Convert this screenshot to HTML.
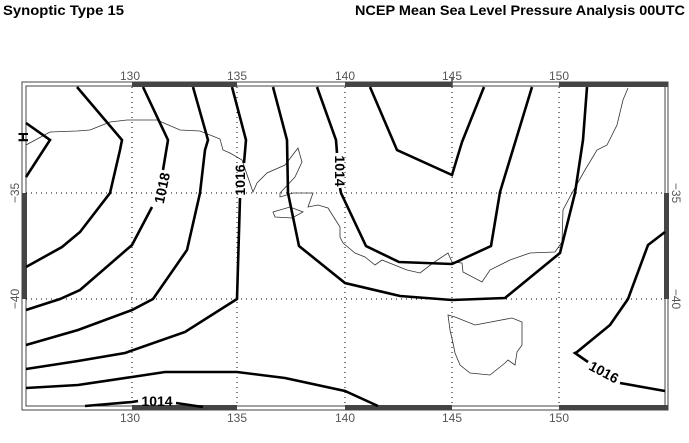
<!DOCTYPE html>
<html><head><meta charset="utf-8"><style>
html,body{margin:0;padding:0;background:#fff;}
svg{display:block;}
</style></head><body>
<svg width="689" height="443" viewBox="0 0 689 443" xmlns="http://www.w3.org/2000/svg" font-family="Liberation Sans, sans-serif">
<rect width="689" height="443" fill="#fff"/>
<text x="3" y="15" font-size="14" font-weight="bold" textLength="121" lengthAdjust="spacingAndGlyphs">Synoptic Type 15</text>
<text x="355" y="15" font-size="14" font-weight="bold" textLength="330" lengthAdjust="spacingAndGlyphs">NCEP Mean Sea Level Pressure Analysis 00UTC</text>

<!-- frame strips -->
<rect x="22" y="82" width="646" height="328" fill="none" stroke="#444" stroke-width="1"/>
<rect x="26" y="86" width="639" height="320" fill="none" stroke="#444" stroke-width="1"/>
<g fill="#444">
<rect x="132" y="82" width="105" height="5"/>
<rect x="345" y="82" width="107" height="5"/>
<rect x="559" y="82" width="109" height="5"/>
<rect x="132" y="405" width="105" height="5"/>
<rect x="345" y="405" width="107" height="5"/>
<rect x="559" y="405" width="109" height="5"/>
<rect x="22" y="193" width="5" height="106"/>
<rect x="664" y="193" width="5" height="106"/>
</g>
<line x1="452" y1="77" x2="452" y2="87" stroke="#444" stroke-width="1.5"/>

<!-- grid -->
<g stroke="#000" stroke-width="1" stroke-dasharray="1,4">
<line x1="132" y1="87" x2="132" y2="406"/>
<line x1="237" y1="87" x2="237" y2="406"/>
<line x1="345" y1="87" x2="345" y2="406"/>
<line x1="452" y1="87" x2="452" y2="406"/>
<line x1="559" y1="87" x2="559" y2="406"/>
<line x1="26" y1="193" x2="665" y2="193"/>
<line x1="26" y1="299" x2="665" y2="299"/>
</g>

<!-- tick labels -->
<g font-size="12" fill="#555" text-anchor="middle">
<text x="130" y="80">130</text><text x="237" y="80">135</text><text x="345" y="80">140</text><text x="452" y="80">145</text><text x="559" y="80">150</text>
<text x="130" y="422">130</text><text x="237" y="422">135</text><text x="345" y="422">140</text><text x="452" y="422">145</text><text x="559" y="422">150</text>
<text transform="translate(19,193) rotate(-90)">−35</text>
<text transform="translate(19,299) rotate(-90)">−40</text>
<text transform="translate(672,193) rotate(90)">−35</text>
<text transform="translate(672,299) rotate(90)">−40</text>
</g>

<!-- coastlines -->
<g fill="none" stroke="#333" stroke-width="0.8">
<polyline points="26,145 50,132 77,131 90,130 110,122 127,120 157,120 180,130 200,131 220,139 223,150 230,153 242,160 253,192 257,183 267,173 285,165 298,148 302,162 295,177 280,193 280,197 293,193 313,193 308,207 318,205 328,208 340,227 340,237 343,243 355,253 365,257 375,265 382,260 407,270 420,273 433,263 448,253 452,262 462,263 463,272 482,282 490,270 510,260 530,253 555,252 562,242 563,210 572,193 585,170 597,150 607,145 617,125 623,100 628,88"/>
<polygon points="273,212 290,207 303,212 292,218 275,217"/>
<polygon points="448,315 455,317 475,325 512,318 522,322 522,345 517,352 515,365 508,360 505,363 490,375 470,373 460,365 455,353 453,343 450,330"/>
</g>

<!-- contours -->
<g fill="none" stroke="#000" stroke-width="2.6" stroke-linejoin="miter">
<polyline points="26,123 50,140 26,177"/>
<polyline points="77,87 122,140 120,150 110,193 80,232 62,247 26,267"/>
<polyline points="143,87 168,140 163,170"/>
<polyline points="152,207 132,245 80,290 60,299 26,310"/>
<polyline points="193,87 208,140 205,150 200,193 187,250 153,299 132,310 78,330 26,345"/>
<polyline points="232,87 246,140 244,163"/>
<polyline points="240,198 237,299 185,332 125,353 78,361 26,369"/>
<polyline points="26,388 78,385 132,377 165,372 237,372 285,378 345,391 378,406"/>
<polyline points="85,406 132,402 138,401"/>
<polyline points="176,403 203,407"/>
<polyline points="273,87 287,140 288,193 299,246 345,283 400,296 452,300 505,298 560,253 575,193 583,140 587,87"/>
<polyline points="317,87 336,140 337,153"/>
<polyline points="340,188 341,193 366,246 399,262 452,264 491,246 500,192 532,87"/>
<polyline points="370,87 397,150 452,175 462,142 484,87"/>
<polyline points="665,232 648,245 628,299 610,325 577,352 575,353 588,362"/>
<polyline points="620,383 665,391"/>
</g>

<!-- labels -->
<g font-size="14" font-weight="bold" text-anchor="middle">
<text transform="translate(162,188) rotate(-78)" dy="5">1018</text>
<text transform="translate(240,180) rotate(-90)" dy="5">1016</text>
<text transform="translate(340,171) rotate(90)" dy="5">1014</text>
<text x="157" y="406">1014</text>
<text transform="translate(604,372) rotate(28)" dy="5">1016</text>
<text x="23" y="142" font-size="14" text-anchor="middle" transform="rotate(-90,23,137)">H</text>
</g>
</svg>
</body></html>
